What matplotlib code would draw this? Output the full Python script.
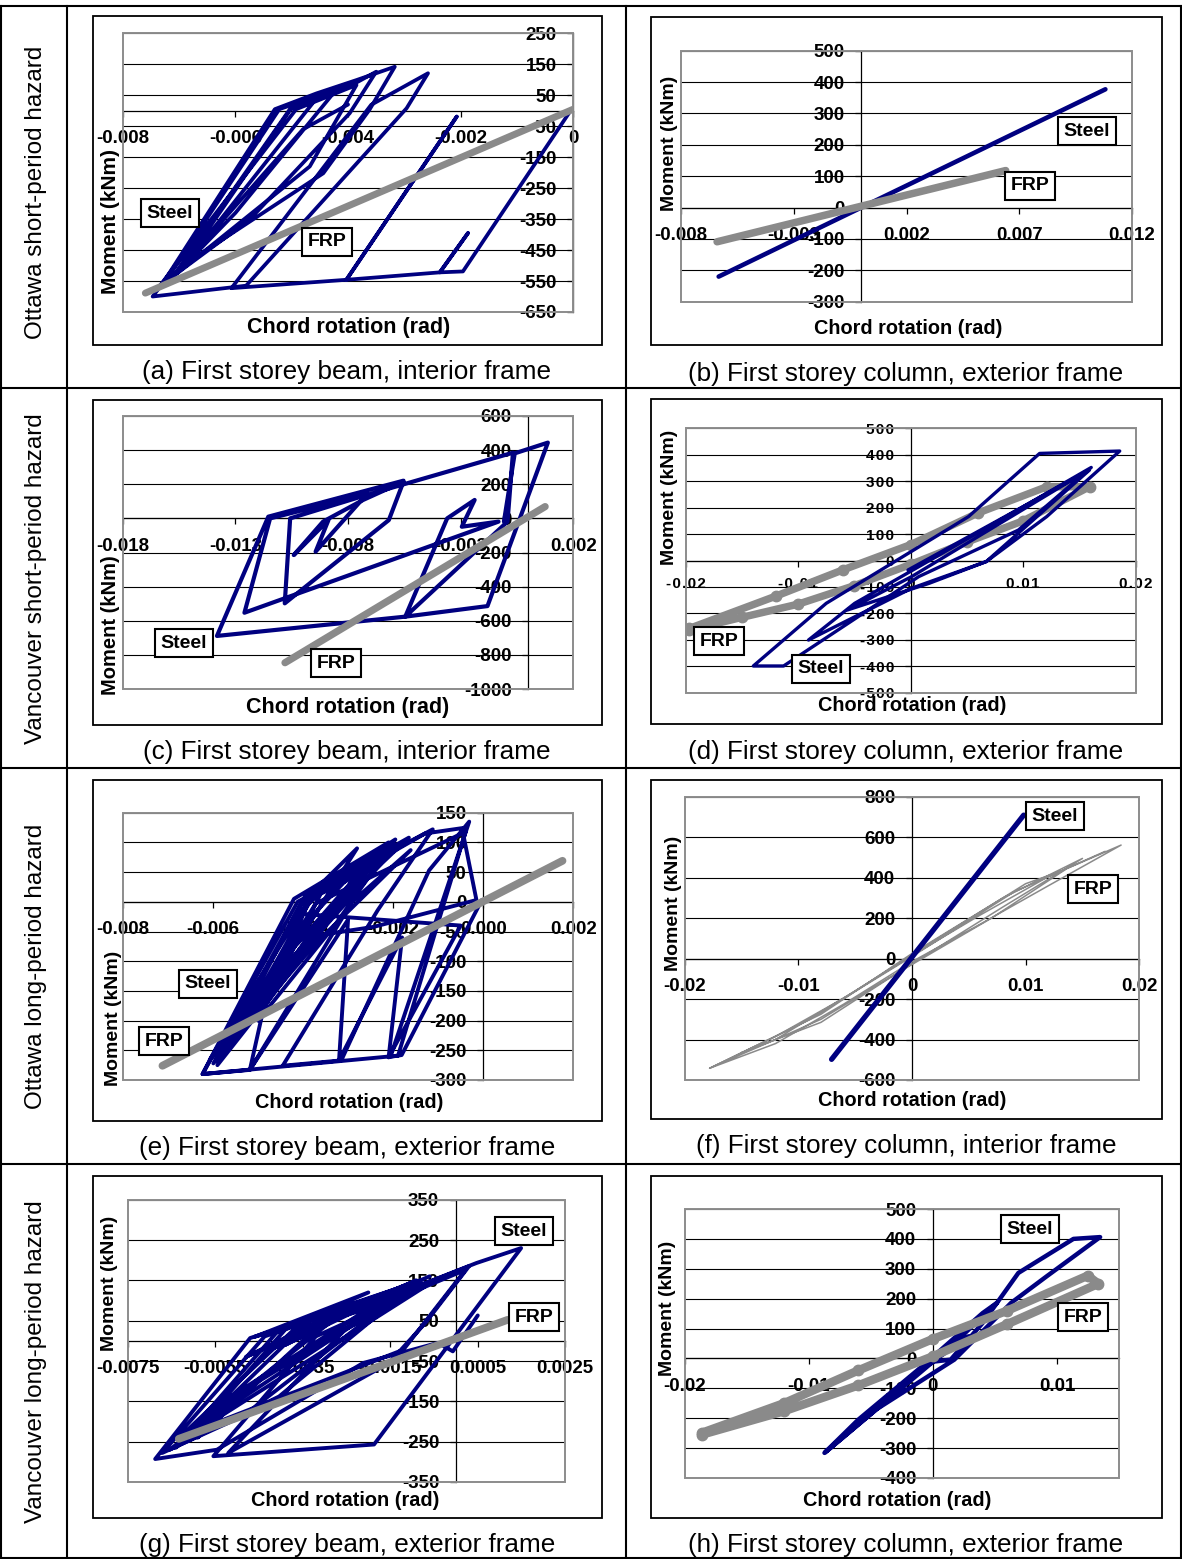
import matplotlib
matplotlib.use("Agg")
import matplotlib.pyplot as plt
from matplotlib.patches import Rectangle
from matplotlib.lines import Line2D

# ---------------------------------------------------------------- data
ROW_LABELS = ["Ottawa short-period hazard", "Vancouver short-period hazard",
              "Ottawa long-period hazard", "Vancouver long-period hazard"]
CAPTIONS = ["(a) First storey beam, interior frame",
            "(b) First storey column, exterior frame",
            "(c) First storey beam, interior frame",
            "(d) First storey column, exterior frame",
            "(e) First storey beam, exterior frame",
            "(f) First storey column, interior frame",
            "(g) First storey beam, exterior frame",
            "(h) First storey column, exterior frame"]
XLABEL = "Chord rotation (rad)"
YLABEL = "Moment (kNm)"
SERIES = ["Steel", "FRP"]

# (a)
A_XTICKS = [-0.008, -0.006, -0.004, -0.002, 0.0]
A_XTICKLABELS = ["-0.008", "-0.006", "-0.004", "-0.002", "0"]
A_YTICKS = [250, 150, 50, -50, -150, -250, -350, -450, -550, -650]
STEEL_A_X = [-0.00006, -0.00196, -0.00237, -0.00187, -0.00237, -0.00403, -0.00207,
             -0.00403, -0.00607, -0.00359, -0.00258, -0.00296, -0.00581, -0.00747,
             -0.00729, -0.00530, -0.00456, -0.00385, -0.00317, -0.00362, -0.00444,
             -0.00664, -0.00723, -0.00522, -0.00385, -0.00350, -0.00397, -0.00575,
             -0.00735, -0.00492, -0.00385, -0.00468, -0.00652, -0.00711, -0.00504,
             -0.00456, -0.00700, -0.00500, -0.00420, -0.00600, -0.00715, -0.00480,
             -0.00400]
STEEL_A_Y = [-3, -519, -522, -395, -522, -546, -19, -546, -573, 19, 121, 8, -565,
             -600, -557, 5, 56, 99, 142, 3, -202, -465, -546, 5, 91, 126, -8, -352,
             -567, 5, 83, -180, -449, -535, 3, 40, -520, 10, 70, -330, -545, -60, 20]
FRP_A_X = [-0.0076, 0.0]
FRP_A_Y = [-589, 5]

# (b)
B_XTICKS = [-0.008, -0.003, 0.002, 0.007, 0.012]
B_XTICKLABELS = ["-0.008", "-0.003", "0.002", "0.007", "0.012"]
B_YTICKS = [500, 400, 300, 200, 100, 0, -100, -200, -300]
STEEL_B_X = [-0.00633, 0.01082]
STEEL_B_Y = [-220, 377]
FRP_B_X = [-0.0064, 0.0064]
FRP_B_Y = [-109, 118]

# (c)
C_XTICKS = [-0.018, -0.013, -0.008, -0.003, 0.002]
C_XTICKLABELS = ["-0.018", "-0.013", "-0.008", "-0.003", "0.002"]
C_YTICKS = [600, 400, 200, 0, -200, -400, -600, -800, -1000]
STEEL_C_X = [-0.00108, -0.00060, 0.00087, -0.00181, -0.00546, -0.00360, -0.00238,
             -0.00295, -0.00132, -0.01260, -0.01146, -0.00716, -0.00944, -0.00887,
             -0.01041, -0.00911, -0.00733, -0.00554, -0.00619, -0.01081, -0.01057,
             -0.00733, -0.00068, -0.00092, -0.00546, -0.01382, -0.01154, -0.00554]
STEEL_C_Y = [-19, 381, 444, -514, -576, 0, 108, -49, -19, -553, 0, 143, -195, -10,
             -215, -19, 108, 215, -10, -498, 0, 131, 385, -19, -576, -689, 10, 221]
FRP_C_X = [-0.0108, 0.00075]
FRP_C_Y = [-846, 69]

# (d)
D_XTICKS = [-0.02, -0.01, 0.0, 0.01, 0.02]
D_XTICKLABELS = ["-0.02", "-0.01", "0", "0.01", "0.02"]
D_YTICKS = [500, 400, 300, 200, 100, 0, -100, -200, -300, -400, -500]
STEEL_D_X = [-0.00024, 0.01589, 0.00672, 0.00008, -0.00909, -0.00498, 0.00640,
             0.01605, 0.00957, 0.00071, -0.01130, -0.01399, -0.00751, 0.00514,
             0.01146, 0.01858, 0.01209, 0.00672, 0.00166, -0.00561, 0.00008, 0.01557]
STEEL_D_Y = [-36, 342, -4, -105, -301, -162, 115, 352, 115, -61, -399, -399, -162,
             166, 405, 414, 166, -4, -86, -187, -61, 336]
FRP_D_X = [-0.01968, -0.0150, -0.0100, -0.0050, 0.0, 0.0050, 0.0100, 0.0159,
           0.0121, 0.0060, 0.0, -0.0060, -0.0120, -0.01968]
FRP_D_Y = [-263, -215, -165, -95, -15, 70, 150, 279,
           279, 180, 60, -35, -135, -257]

# (e)
E_XTICKS = [-0.008, -0.006, -0.004, -0.002, 0.0, 0.002]
E_XTICKLABELS = ["-0.008", "-0.006", "-0.004", "-0.002", "0.000", "0.002"]
E_YTICKS = [150, 100, 50, 0, -50, -100, -150, -200, -250, -300]
STEEL_E_X = [-0.00003, -0.00181, -0.00206, -0.00031, -0.00120, -0.00315, -0.00445,
             -0.00234, -0.00112, -0.00177, -0.00323, -0.00412, -0.00623, -0.00518,
             -0.00291, -0.00161, -0.00372, -0.00599, -0.00404, -0.00226, -0.00437,
             -0.00607, -0.00388, -0.00129, -0.00047, -0.00015, -0.00242, -0.00388,
             -0.00583, -0.00372, -0.00039, -0.00189, -0.00623,
             -0.00420, -0.00210, -0.00460, -0.00590, -0.00395, -0.00165, -0.00440,
             -0.00570, -0.00370, -0.00195, -0.00330, -0.00500, -0.00350, -0.00250,
             -0.00470, -0.00518, -0.00300, -0.00320, -0.00180, -0.00210, -0.00050,
             -0.00410, -0.00300, -0.00560, -0.00400, -0.00250, -0.00480, -0.00380,
             -0.00280, -0.00540, -0.00360, -0.00230, -0.00430]
STEEL_E_Y = [3, -258, -261, 135, 53, -267, -276, -14, 122, 96, 37, 0, -290, -283,
             0, 87, -70, -272, -3, 65, -115, -266, 3, 115, 124, 3, -42, -59, -261,
             -3, 118, -259, -290,
             5, 100, -150, -275, 10, 108, -90, -250, 20, 105, -40, -200, 30, 70,
             -120, -283, -30, -267, -60, -262, -40,
             -20, 60, -230, -40, 80, -170, 15, 90, -220, -30, 75, -100]
FRP_E_X = [-0.00712, 0.00176]
FRP_E_Y = [-276, 69]

# (f)
F_XTICKS = [-0.02, -0.01, 0.0, 0.01, 0.02]
F_XTICKLABELS = ["-0.02", "-0.01", "0", "0.01", "0.02"]
F_YTICKS = [800, 600, 400, 200, 0, -200, -400, -600]
STEEL_F_X = [-0.00707, 0.00983]
STEEL_F_Y = [-498, 709]
FRP_F_X = [-0.0178, -0.012, -0.006, 0.0, 0.006, 0.012, 0.0184, 0.012, 0.006, 0.0,
           -0.006, -0.012, -0.0178,
           -0.015, -0.008, 0.0, 0.008, 0.015, 0.008, 0.0, -0.008, -0.015,
           -0.012, -0.005, 0.003, 0.010, 0.0135, 0.007, -0.002, -0.008, -0.012,
           -0.0165, -0.009, 0.0, 0.009, 0.017]
FRP_F_Y = [-542, -385, -195, 15, 215, 405, 561, 360, 170, -15, -225, -420, -542,
           -465, -275, 25, 300, 495, 255, -25, -315, -465,
           -400, -160, 125, 370, 440, 200, -95, -300, -400,
           -510, -300, 10, 330, 530]

# (g)
G_XTICKS = [-0.0075, -0.0055, -0.0035, -0.0015, 0.0005, 0.0025]
G_XTICKLABELS = ["-0.0075", "-0.0055", "-0.0035", "-0.0015", "0.0005", "0.0025"]
G_YTICKS = [350, 250, 150, 50, -50, -150, -250, -350]
STEEL_G_X = [0.00050, -0.00007, -0.00041, -0.00212, -0.00546, -0.00687, -0.00470,
             -0.00070, 0.00047, 0.00149, -0.00187, -0.00554, -0.00320, -0.00086,
             0.00022, -0.00120, -0.00629, -0.00370, -0.00153, -0.00487, -0.00671,
             -0.00437, -0.00170, -0.00103, -0.00404, -0.00654, -0.00270, -0.00028,
             0.00030, -0.00070, -0.00153, -0.00520, -0.00253, -0.00070,
             -0.00600, -0.00380, -0.00120, -0.00560, -0.00620, -0.00330, -0.00080,
             -0.00500, -0.00590, -0.00290, -0.00150, -0.00450, -0.00640, -0.00410,
             -0.00200,
             -0.00460, -0.00260, -0.00100, -0.00420, -0.00230, -0.00090, -0.00480,
             -0.00300, -0.00140, -0.00390, -0.00200, -0.00060]
STEEL_G_Y = [63, -26, -5, -55, -270, -293, 7, 143, 193, 230, -257, -286, 11, 127,
             176, -22, -237, 28, 94, -187, -278, 11, 110, 131, -138, -270, 61, 160,
             185, 44, -55, -278, 28, 135,
             -230, 40, 135, -170, -250, 55, 150, -150, -240, 60, 100, -100, -265,
             20, 120,
             10, 75, 145, -20, 85, 150, -40, 55, 120, -10, 95, 160]
FRP_G_X = [-0.00633, 0.00118]
FRP_G_Y = [-243, 52]

# (h)
H_XTICKS = [-0.02, -0.01, 0.0, 0.01]
H_XTICKLABELS = ["-0.02", "-0.01", "0", "0.01"]
H_YTICKS = [500, 400, 300, 200, 100, 0, -100, -200, -300, -400]
STEEL_H_X = [-0.00085, 0.00144, 0.00402, 0.00689, 0.01133, 0.01348, 0.00918,
             0.00631, 0.00173, -0.00458, -0.00873, -0.00601, -0.00085, 0.00402,
             0.00517, 0.00116, -0.00745, -0.00859, -0.00170, 0.00288, -0.00114]
STEEL_H_Y = [-15, -4, 119, 286, 400, 406, 275, 186, -4, -171, -316, -205, -26, 152,
             186, 29, -272, -311, -60, 74, -15]
FRP_H_X = [-0.01862, -0.0120, -0.0060, 0.0, 0.0060, 0.01248,
           0.01334, 0.0060, 0.0, -0.0060, -0.01203, -0.01862]
FRP_H_Y = [-249, -150, -40, 65, 160, 277,
           250, 115, 7, -90, -177, -255]

# ---------------------------------------------------------------- layout
W, H = 1182, 1559
NAVY = "#000080"
GREY = "#8a8a8a"
CHART_FONT = ["Liberation Sans", "DejaVu Sans"]
TEXT_FONT = ["Liberation Sans", "DejaVu Sans"]


def fx(px):
    return px / W


def fy(py):
    return 1.0 - py / H


def spaced(s):
    return "\u200a".join(list(s))


PANELS = [
    dict(plot=(122.8, 33.3, 573.3, 312.0), box=(93, 16.5, 601.5, 344.5),
         xlim=(-0.008, 0.0), ylim=(-650, 250),
         xt=A_XTICKS, xtl=A_XTICKLABELS, yt=A_YTICKS,
         steel=(STEEL_A_X, STEEL_A_Y), frp=(FRP_A_X, FRP_A_Y),
         slw=2.7, flw=5.0, frp_top=True, fmark=False,
         ylab=(111, 222), xlab=(349, 327), labfs=(15.0, 15.5),
         sbox=(170, 213), fbox=(327, 242), cap=(347, 372)),
    dict(plot=(681, 50.7, 1132, 301.7), box=(651.2, 16.5, 1161.5, 345),
         xlim=(-0.008, 0.012), ylim=(-300, 500),
         xt=B_XTICKS, xtl=B_XTICKLABELS, yt=B_YTICKS,
         steel=(STEEL_B_X, STEEL_B_Y), frp=(FRP_B_X, FRP_B_Y),
         slw=3.3, flw=5.4, frp_top=True, fmark=False,
         ylab=(669, 143), xlab=(908, 328), labfs=(14.0, 14.3),
         sbox=(1087, 131), fbox=(1030, 186), cap=(906, 374)),
    dict(plot=(122.8, 416, 573.3, 689), box=(93, 399.5, 601.5, 725),
         xlim=(-0.018, 0.002), ylim=(-1000, 600),
         xt=C_XTICKS, xtl=C_XTICKLABELS, yt=C_YTICKS,
         steel=(STEEL_C_X, STEEL_C_Y), frp=(FRP_C_X, FRP_C_Y),
         slw=3.0, flw=5.2, frp_top=True, fmark=False,
         ylab=(111, 625), xlab=(348, 708), labfs=(14.5, 15.5),
         sbox=(184, 643), fbox=(336, 663), cap=(347, 752)),
    dict(plot=(685.7, 428.3, 1135.7, 692.7), box=(651.2, 399.5, 1161.5, 724.5),
         xlim=(-0.02, 0.02), ylim=(-500, 500),
         xt=D_XTICKS, xtl=D_XTICKLABELS, yt=D_YTICKS,
         steel=(STEEL_D_X, STEEL_D_Y), frp=(FRP_D_X, FRP_D_Y),
         slw=2.4, flw=5.4, frp_top=False, fmark=True, spaced=True,
         ylab=(669, 497), xlab=(912, 706), labfs=(14.0, 14.3),
         sbox=(821, 669), fbox=(719, 641), cap=(906, 752)),
    dict(plot=(122.8, 812.7, 573.3, 1080), box=(93, 780, 601.5, 1120.5),
         xlim=(-0.008, 0.002), ylim=(-300, 150),
         xt=E_XTICKS, xtl=E_XTICKLABELS, yt=E_YTICKS,
         steel=(STEEL_E_X, STEEL_E_Y), frp=(FRP_E_X, FRP_E_Y),
         slw=2.8, flw=5.6, frp_top=True, fmark=False,
         ylab=(113, 1018), xlab=(349, 1103), labfs=(14.0, 14.3),
         sbox=(208, 984), fbox=(164, 1041), cap=(347, 1148)),
    dict(plot=(684.6, 796.7, 1139.3, 1080), box=(651.2, 780, 1161.5, 1118.5),
         xlim=(-0.02, 0.02), ylim=(-600, 800),
         xt=F_XTICKS, xtl=F_XTICKLABELS, yt=F_YTICKS,
         steel=(STEEL_F_X, STEEL_F_Y), frp=(FRP_F_X, FRP_F_Y),
         slw=3.8, flw=1.1, frp_top=False, fmark=False,
         ylab=(673, 903), xlab=(912, 1100), labfs=(14.0, 14.3),
         sbox=(1055, 816), fbox=(1093, 889), cap=(906, 1146)),
    dict(plot=(127.6, 1199.7, 565.3, 1482), box=(93, 1175.7, 601.5, 1518),
         xlim=(-0.0075, 0.0025), ylim=(-350, 350),
         xt=G_XTICKS, xtl=G_XTICKLABELS, yt=G_YTICKS,
         steel=(STEEL_G_X, STEEL_G_Y), frp=(FRP_G_X, FRP_G_Y),
         slw=2.8, flw=5.6, frp_top=True, fmark=False,
         ylab=(109, 1283), xlab=(345, 1500), labfs=(14.0, 14.3),
         sbox=(524, 1231), fbox=(534, 1317), cap=(347, 1545)),
    dict(plot=(684.6, 1209, 1119, 1478), box=(651.2, 1175.7, 1161.5, 1518),
         xlim=(-0.02, 0.015), ylim=(-400, 500),
         xt=H_XTICKS, xtl=H_XTICKLABELS, yt=H_YTICKS,
         steel=(STEEL_H_X, STEEL_H_Y), frp=(FRP_H_X, FRP_H_Y),
         slw=3.2, flw=6.2, frp_top=True, fmark=True,
         ylab=(668, 1308), xlab=(897, 1500), labfs=(14.0, 14.3),
         sbox=(1030, 1229), fbox=(1083, 1317), cap=(906, 1545)),
]

fig = plt.figure(figsize=(W / 100, H / 100), dpi=100)
fig.patch.set_facecolor("white")

# table grid
TLW = 1.5
for yy in (6, 388, 768, 1164, 1558):
    fig.add_artist(Line2D([0, 1], [fy(yy), fy(yy)], transform=fig.transFigure,
                          color="black", lw=TLW))
for xx in (1, 67, 626, 1181):
    fig.add_artist(Line2D([fx(xx), fx(xx)], [fy(6), fy(1559)],
                          transform=fig.transFigure, color="black", lw=TLW))

ROW_CENTERS = [192, 579, 966, 1362]
for lab, yc in zip(ROW_LABELS, ROW_CENTERS):
    fig.text(fx(36), fy(yc), lab, rotation=90, ha="center", va="center",
             fontsize=17.5, family=TEXT_FONT)

for p, cap in zip(PANELS, CAPTIONS):
    x0, y0, x1, y1 = p["box"]
    fig.add_artist(Rectangle((fx(x0), fy(y1)), fx(x1) - fx(x0), (y1 - y0) / H,
                             transform=fig.transFigure, fill=False,
                             ec="black", lw=1.3))
    px0, py0, px1, py1 = p["plot"]
    ax = fig.add_axes([fx(px0), fy(py1), fx(px1) - fx(px0), (py1 - py0) / H])
    ax.set_xlim(*p["xlim"])
    ax.set_ylim(*p["ylim"])
    ax.set_facecolor("white")
    ax.spines["left"].set_position(("data", 0))
    ax.spines["bottom"].set_position(("data", 0))
    ax.spines["top"].set_visible(False)
    ax.spines["right"].set_visible(False)
    for s in ("left", "bottom"):
        ax.spines[s].set_linewidth(0.9)
        ax.spines[s].set_color("black")
        ax.spines[s].set_zorder(1.0)
    sp = p.get("spaced", False)
    xtl = [spaced(t) for t in p["xtl"]] if sp else p["xtl"]
    ytl = [spaced(str(v)) for v in p["yt"]] if sp else [str(v) for v in p["yt"]]
    ax.set_xticks(p["xt"])
    ax.set_xticklabels(xtl)
    ax.set_yticks(p["yt"])
    ax.set_yticklabels(ytl)
    tfs = 11.0 if sp else 13.5
    ax.tick_params(axis="x", direction="out", length=4, width=0.9,
                   pad=8 if sp else 10, labelsize=tfs)
    ax.tick_params(axis="y", direction="out", length=4, width=0.9,
                   pad=8, labelsize=tfs)
    for lab in ax.get_xticklabels() + ax.get_yticklabels():
        lab.set_fontweight("bold")
        lab.set_family(CHART_FONT)
    ax.set_axisbelow(True)
    ax.grid(axis="y", color="black", lw=0.8)
    ax.grid(axis="x", visible=False)
    ax.add_patch(Rectangle((0, 0), 1, 1, transform=ax.transAxes, fill=False,
                           ec="#8c8c8c", lw=1.4, clip_on=False, zorder=6))

    sx, sy = p["steel"]
    fxs, fys = p["frp"]
    zs, zf = (3, 4) if p["frp_top"] else (4, 3)
    ax.plot(sx, sy, color=NAVY, lw=p["slw"], solid_joinstyle="round",
            solid_capstyle="round", zorder=zs)
    ax.plot(fxs, fys, color=GREY, lw=p["flw"], solid_joinstyle="round",
            solid_capstyle="round", zorder=zf,
            marker="o" if p["fmark"] else None, ms=7.5, mec=GREY, mfc=GREY)

    ylfs, xlfs = p["labfs"]
    fig.text(fx(p["ylab"][0]), fy(p["ylab"][1]), YLABEL, rotation=90,
             ha="center", va="center", fontsize=ylfs, fontweight="bold",
             family=CHART_FONT)
    fig.text(fx(p["xlab"][0]), fy(p["xlab"][1]), XLABEL, ha="center",
             va="center", fontsize=xlfs, fontweight="bold", family=CHART_FONT)
    for name, pos in zip(SERIES, (p["sbox"], p["fbox"])):
        fig.text(fx(pos[0]), fy(pos[1]), name, ha="center", va="center",
                 fontsize=14, fontweight="bold", family=CHART_FONT, zorder=10,
                 bbox=dict(boxstyle="square,pad=0.28", fc="white", ec="black",
                           lw=1.5))
    fig.text(fx(p["cap"][0]), fy(p["cap"][1]), cap, ha="center", va="center",
             fontsize=18.8, family=TEXT_FONT)

fig.savefig("out.png", dpi=100)
